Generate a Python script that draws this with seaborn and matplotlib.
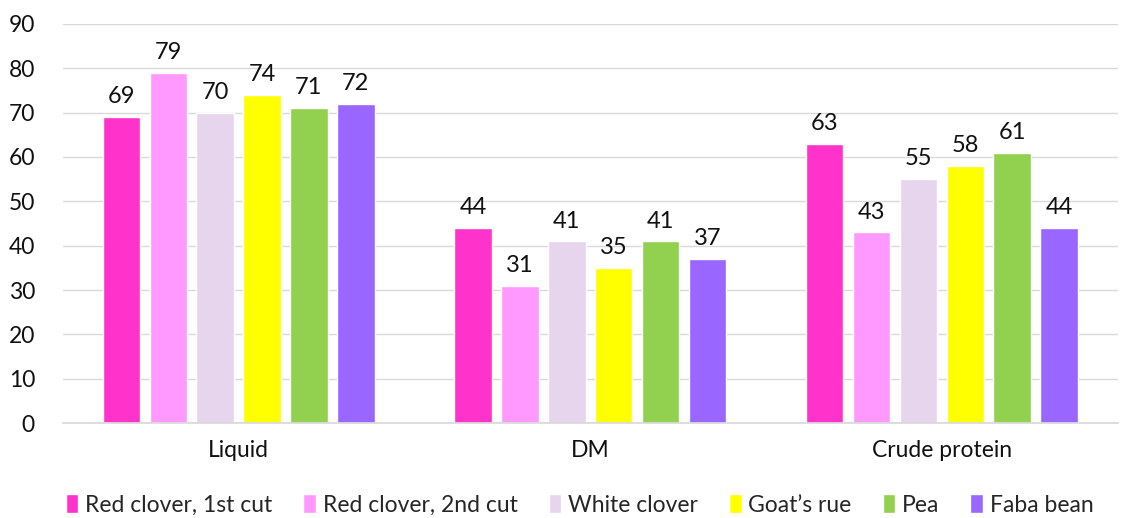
import pandas as pd
import matplotlib.pyplot as plt
import seaborn as sns

# data
categories = ["Liquid", "DM", "Crude protein"]
series = ["Red clover, 1st cut", "Red clover, 2nd cut", "White clover",
          "Goat\u2019s rue", "Pea", "Faba bean"]
red_clover_1 = [69, 44, 63]
red_clover_2 = [79, 31, 43]
white_clover = [70, 41, 55]
goats_rue = [74, 35, 58]
pea = [71, 41, 61]
faba_bean = [72, 37, 44]

colors = ["#FF33CC", "#FF99FF", "#E6D5EC", "#FFFF00", "#92D050", "#9966FF"]

vals = [red_clover_1, red_clover_2, white_clover, goats_rue, pea, faba_bean]
rows = []
for name, v in zip(series, vals):
    for cat, x in zip(categories, v):
        rows.append({"category": cat, "series": name, "value": x})
df = pd.DataFrame(rows)

sns.set_theme(style="white")
plt.rcParams["font.family"] = ["Lato", "DejaVu Sans"]

fig = plt.figure(figsize=(11.21, 5.18), dpi=100)
ax = fig.add_axes([0.056, 0.183, 0.941, 0.771])

sns.barplot(data=df, x="category", y="value", hue="series", order=categories,
            hue_order=series, palette=colors, width=0.8, gap=0.2,
            saturation=1, ax=ax)

for cont in ax.containers:
    ax.bar_label(cont, padding=7, fontsize=17, color="#111111")

ax.set_ylim(0, 90)
ax.set_yticks(range(0, 91, 10))
ax.yaxis.grid(True, color="#D9D9D9", linewidth=1)
ax.set_axisbelow(True)
ax.set_xlabel("")
ax.set_ylabel("")
for s in ["top", "right", "left"]:
    ax.spines[s].set_visible(False)
ax.spines["bottom"].set_color("#D9D9D9")
ax.tick_params(axis="y", labelsize=16.5, length=0, pad=20, colors="#111111")
ax.tick_params(axis="x", labelsize=16.5, length=0, pad=12, colors="#111111")

ax.legend(loc="center", bbox_to_anchor=(0.49, -0.205), ncol=6,
          frameon=False, fontsize=16.5, handlelength=0.55, handleheight=0.9,
          handletextpad=0.3, columnspacing=1.35)

fig.savefig("out.png", dpi=100)
